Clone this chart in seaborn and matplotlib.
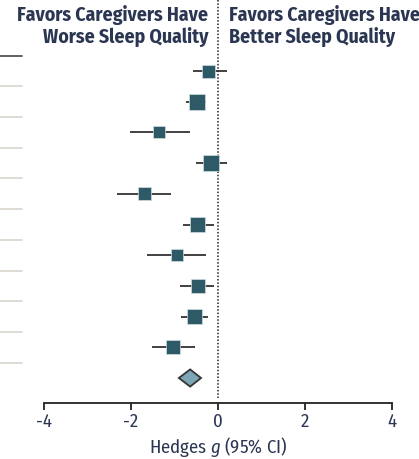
import matplotlib
matplotlib.use("Agg")
import matplotlib.pyplot as plt
import seaborn as sns
import pandas as pd
import numpy as np

sns.set_style("white")

# ---- data ----
est = [-0.21, -0.48, -1.36, -0.16, -1.70, -0.46, -0.94, -0.46, -0.53, -1.03]
lo = [-0.57, -0.74, -2.02, -0.51, -2.32, -0.80, -1.63, -0.87, -0.85, -1.52]
hi = [0.21, -0.28, -0.64, 0.21, -1.08, -0.09, -0.28, -0.09, -0.23, -0.53]
weight_px = [13, 16, 12, 16, 13, 15, 12, 14, 15, 14]
pooled_est = -0.64
pooled_lo = -0.90
pooled_hi = -0.39
xticks = [-4, -2, 0, 2, 4]
left_header = "Favors Caregivers Have\nWorse Sleep Quality"
right_header = "Favors Caregivers Have\nBetter Sleep Quality"

fam = "Fira Sans Condensed"
plt.rcParams['font.family'] = [fam, 'PT Sans Narrow', 'DejaVu Sans']
plt.rcParams['mathtext.fontset'] = 'custom'
plt.rcParams['mathtext.rm'] = fam
plt.rcParams['mathtext.it'] = fam + ':italic'

navy = "#2b3652"
sq_color = "#2e5a67"

df = pd.DataFrame({"row": np.arange(len(est)), "est": est, "lo": lo, "hi": hi,
                   "w": [(w * 0.72) ** 2 for w in weight_px]})

fig = plt.figure(figsize=(4.19, 4.59), dpi=100)
ax = fig.add_axes([44 / 419, (459 - 403) / 459, 348 / 419, 403 / 459])
ax.set_xlim(-4, 4)
top = -71 / 30.7
bottom = (403 - 71) / 30.7
ax.set_ylim(bottom, top)

# CI lines
ax.hlines(df["row"], df["lo"], df["hi"], color="#333333", lw=1.3, zorder=2)
# squares
sns.scatterplot(data=df, x="est", y="row", size="w", sizes=(df["w"].min(), df["w"].max()),
                marker="s", color=sq_color, edgecolor="#cfdfe4", linewidth=0.5,
                legend=False, ax=ax, zorder=3)

# pooled diamond
prow = len(est)
ax.fill([pooled_lo, pooled_est, pooled_hi, pooled_est],
        [prow, prow - 0.28, prow, prow + 0.28],
        facecolor="#7ea6b6", edgecolor="#333333", lw=1.3, zorder=3)

# dotted null line
ax.plot([0, 0], [top, (398 - 71) / 30.7], ls=(0, (1, 1.2)), color="#222222", lw=1.1, zorder=1)

# row separators on the left (outside axes)
trans = ax.get_yaxis_transform()
for i in range(len(est) + 1):
    y = i - 0.5
    c = "#444444" if i == 0 else "#d8d6cc"
    ax.plot([-44 / 348, -22 / 348], [y, y], transform=trans, color=c, lw=1.2, clip_on=False)

# axes styling
for s in ["top", "right", "left"]:
    ax.spines[s].set_visible(False)
ax.spines["bottom"].set_color("#222222")
ax.spines["bottom"].set_linewidth(1.3)
ax.set_yticks([])
ax.set_xticks(xticks)
ax.set_xticklabels([str(t) for t in xticks])
ax.tick_params(axis="x", direction="out", length=5, width=1.3, color="#222222",
               labelsize=13.5, labelcolor=navy, pad=2, bottom=True)
ax.set_ylabel("")
ax.set_xlabel(r"Hedges $g$ (95% CI)", fontsize=13.5, color=navy, labelpad=3)

# headers
ax.text(208 / 419, 1 - 5 / 459, left_header, transform=fig.transFigure, ha="right", va="top",
        fontsize=14.2, fontweight="bold", color=navy, linespacing=1.12)
ax.text(229 / 419, 1 - 5 / 459, right_header, transform=fig.transFigure, ha="left", va="top",
        fontsize=14.2, fontweight="bold", color=navy, linespacing=1.12)

fig.savefig("out.png", dpi=100)
